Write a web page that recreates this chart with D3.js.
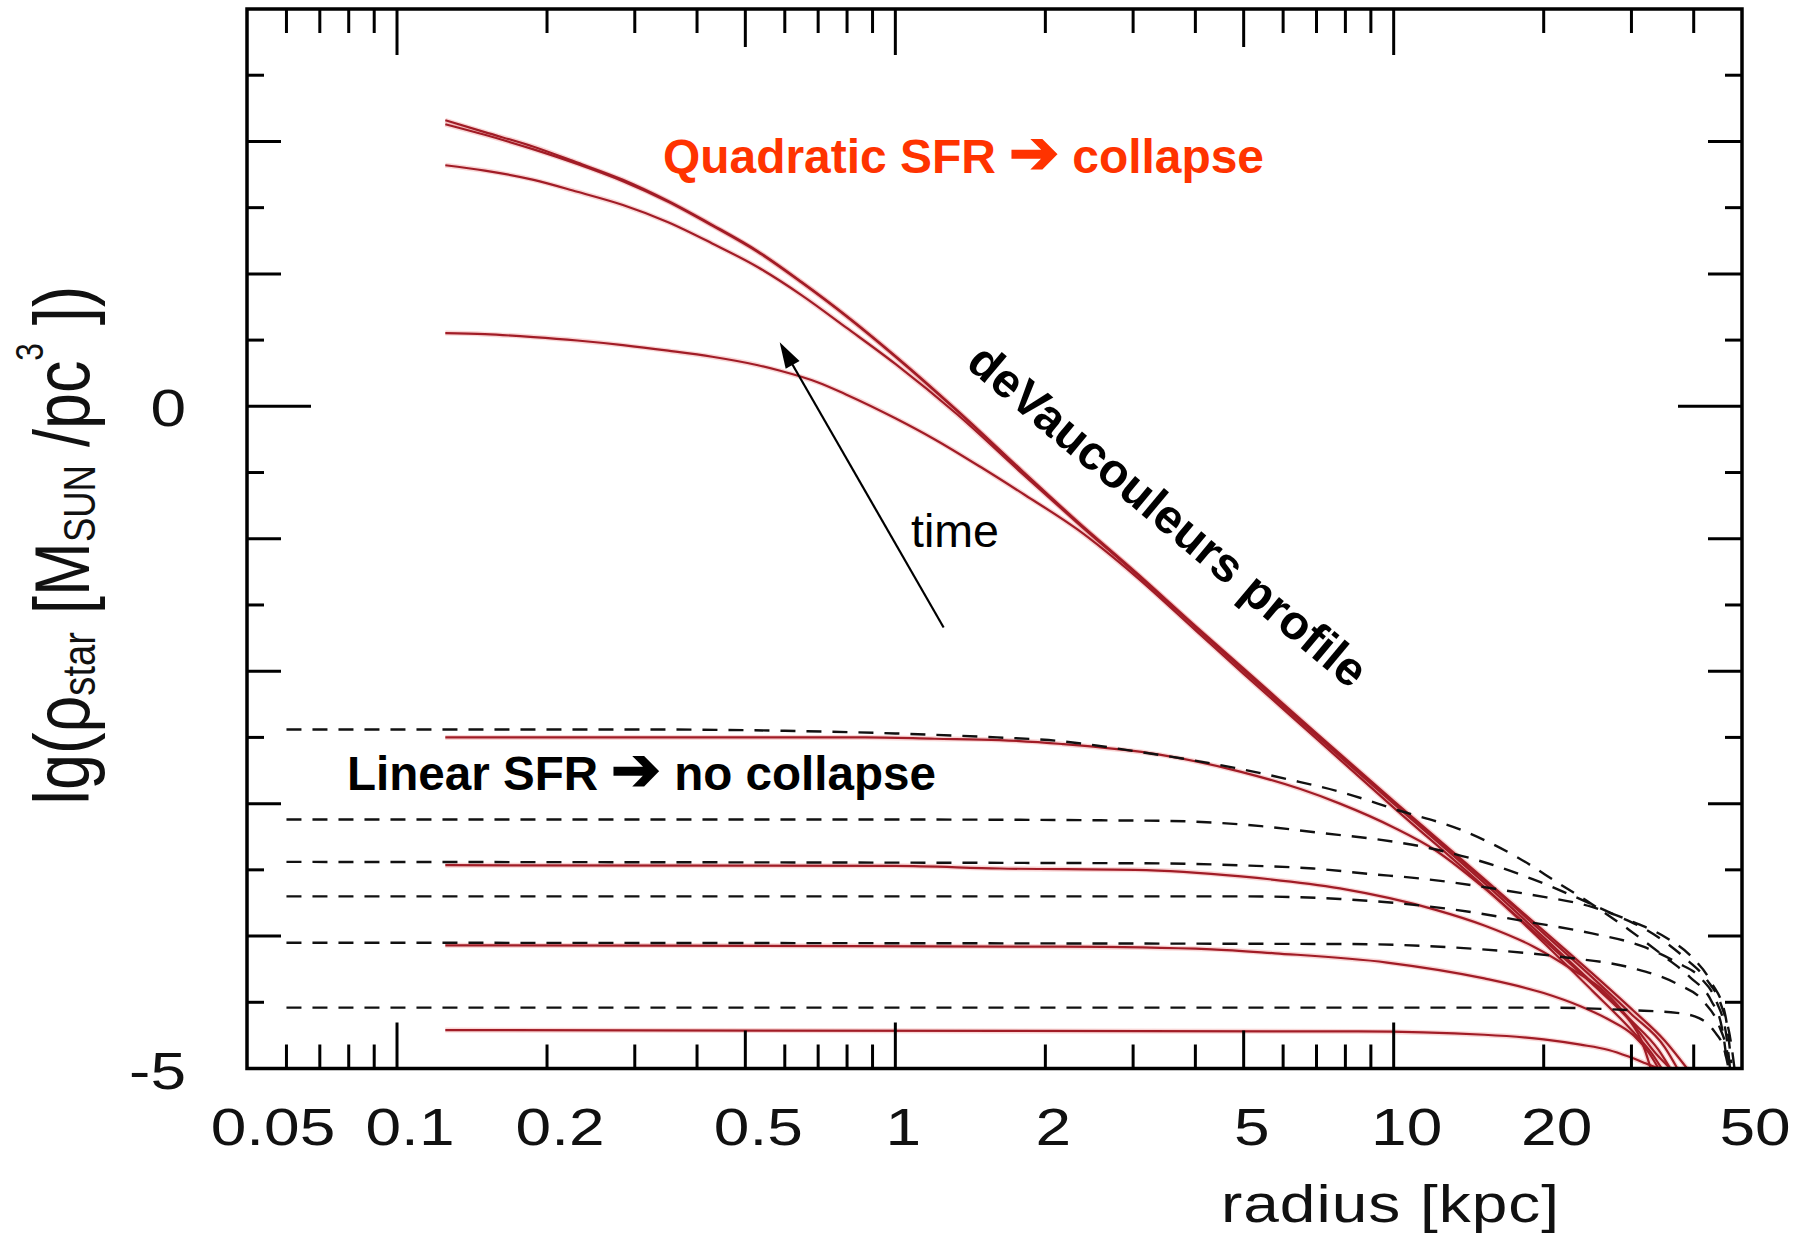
<!DOCTYPE html>
<html>
<head>
<meta charset="utf-8">
<script src="https://cdn.jsdelivr.net/npm/d3@7"></script>
<style>
  html, body { margin: 0; padding: 0; background: #fff; }
  svg { display: block; font-family: "Liberation Sans", Arial, Helvetica, sans-serif; }
</style>
</head>
<body>
<svg id="chart" width="1810" height="1235"></svg>
<script>
// tick labels
const radiusTicks = [0.05, 0.1, 0.2, 0.5, 1, 2, 5, 10, 20, 50];
const densityTicks = [0, -5];

// quadratic SFR runs (red, [radius kpc, lg rho])
const quadA = [[0.125,2.16],[0.15,2.07],[0.188,1.96],[0.23,1.84],[0.284,1.71],[0.35,1.55],[0.429,1.37],[0.53,1.17],[0.648,0.94],[0.8,0.68],[1.0,0.38],[1.33,-0.03],[1.8,-0.49],[2.32,-0.87],[3.05,-1.26],[4,-1.66],[5,-1.98],[7,-2.47],[10,-2.98],[15,-3.55],[20,-3.96],[25,-4.28],[30,-4.55],[35,-4.79],[38.8,-5.0]];
const quadB = [[0.125,2.13],[0.15,2.05],[0.188,1.94],[0.23,1.83],[0.284,1.70],[0.35,1.545],[0.429,1.365],[0.53,1.165],[0.648,0.935],[0.8,0.675],[1.0,0.375],[1.33,-0.035],[1.8,-0.495],[2.32,-0.875],[3.05,-1.265],[4,-1.665],[5,-1.99],[7,-2.48],[10,-2.99],[15,-3.56],[20,-3.98],[25,-4.31],[30,-4.59],[35,-4.84],[37.1,-5.0]];
const quadC = [[0.125,1.82],[0.15,1.78],[0.188,1.71],[0.23,1.62],[0.284,1.52],[0.35,1.39],[0.429,1.23],[0.53,1.05],[0.648,0.84],[0.8,0.59],[1.0,0.32],[1.33,-0.06],[1.8,-0.51],[2.32,-0.88],[3.05,-1.27],[4,-1.67],[5,-2.0],[7,-2.49],[10,-3.0],[15,-3.58],[20,-4.01],[25,-4.35],[30,-4.65],[34,-4.91],[35.9,-5.0]];
const quadD = [[0.125,0.553],[0.15,0.545],[0.188,0.523],[0.23,0.497],[0.284,0.462],[0.35,0.42],[0.429,0.374],[0.53,0.31],[0.585,0.27],[0.7,0.18],[0.796,0.09],[1.0,-0.09],[1.2,-0.25],[1.5,-0.47],[1.82,-0.67],[2.32,-0.93],[3.05,-1.29],[4,-1.69],[5,-2.02],[7,-2.51],[10,-3.03],[15,-3.61],[20,-4.05],[25,-4.41],[30,-4.71],[33,-4.89],[34.5,-5.0]];

// linear SFR runs (red)
const linA = [[0.125,-2.50],[0.5,-2.50],[0.87,-2.50],[1.2,-2.51],[1.62,-2.52],[2.16,-2.55],[3.39,-2.63],[4.94,-2.76],[6.5,-2.89],[7.8,-3.0],[10,-3.18],[12.1,-3.35],[15,-3.62],[20,-4.03],[25,-4.36],[30,-4.64],[34,-4.86],[35.9,-5.0]];
const linB = [[0.125,-3.465],[1.0,-3.47],[1.62,-3.49],[3.03,-3.50],[4.94,-3.55],[7.8,-3.64],[12.1,-3.80],[15.2,-3.92],[19.1,-4.08],[23,-4.26],[26.5,-4.42],[29.5,-4.62],[31.5,-4.80],[32.8,-5.0]];
const linC = [[0.125,-4.07],[2.16,-4.08],[4.32,-4.10],[5.78,-4.13],[9.7,-4.20],[15.2,-4.32],[20,-4.43],[23.7,-4.53],[27,-4.63],[30.3,-4.75],[32.5,-4.88],[34,-5.0]];
const linD = [[0.125,-4.71],[8.5,-4.72],[15.2,-4.745],[20,-4.78],[23.7,-4.82],[27,-4.86],[29.6,-4.91],[32,-4.96],[34,-5.0]];

// dashed comparison profiles (black)
const dashA = [[0.06,-2.44],[0.3,-2.44],[0.6,-2.45],[1.0,-2.47],[1.6,-2.50],[2.03,-2.52],[3.1,-2.61],[4.8,-2.73],[6.2,-2.82],[7.8,-2.91],[10.2,-3.05],[13.7,-3.20],[17.8,-3.41],[21.4,-3.60],[25,-3.76],[29.6,-3.95],[34.8,-4.15],[39.3,-4.31],[43.4,-4.49],[45.5,-4.68],[46.6,-4.96],[46.7,-5.0]];
const dashB = [[0.06,-3.12],[1,-3.12],[3.46,-3.13],[5.42,-3.17],[7.09,-3.22],[9.27,-3.27],[11.6,-3.33],[14.8,-3.43],[19,-3.57],[24.3,-3.74],[27.8,-3.84],[31.7,-3.94],[35.5,-4.06],[38.8,-4.18],[42.5,-4.33],[45.4,-4.52],[47.5,-4.80],[48.3,-5.0]];
const dashC = [[0.06,-3.44],[3,-3.45],[5.3,-3.47],[6.9,-3.49],[8.9,-3.53],[11.6,-3.57],[16.4,-3.65],[19,-3.69],[25,-3.78],[29.6,-3.88],[35.5,-4.02],[39.7,-4.16],[43.4,-4.35],[46.3,-4.60],[47.6,-4.96]];
const dashD = [[0.06,-3.70],[5,-3.70],[7.8,-3.72],[13.2,-3.80],[19.1,-3.90],[25,-3.98],[31.7,-4.08],[37,-4.20],[41.4,-4.32],[44.5,-4.50],[46.5,-4.75],[47.3,-5.0]];
const dashE = [[0.06,-4.05],[8,-4.06],[15,-4.10],[22,-4.16],[30,-4.24],[37,-4.36],[42,-4.50],[45,-4.68],[46.8,-4.90],[47.2,-5.0]];
const dashF = [[0.06,-4.54],[20,-4.54],[30,-4.56],[37,-4.58],[41,-4.62],[44,-4.72],[46,-4.85],[47,-5.0]];

const redRuns = [quadA, quadB, quadC, quadD, linA, linB, linC, linD];
const dashRuns = [dashA, dashB, dashC, dashD, dashE, dashF];

// time arrow, in data coordinates
const arrowFrom = [1.25, -1.67];
const arrowTo = [0.586, 0.483];

const svg = d3.select('#chart');
const L = 247, R = 1742, T = 9, B = 1068.5;

const x = d3.scaleLog().domain([0.05, 50]).range([L, R]);
const y = d3.scaleLinear().domain([-5, 3]).range([B, T]);

svg.append('defs').append('clipPath').attr('id', 'plot')
  .append('rect').attr('x', L).attr('y', T).attr('width', R - L).attr('height', B - T);

const line = d3.line().x(d => x(d[0])).y(d => y(d[1])).curve(d3.curveMonotoneX);
const g = svg.append('g').attr('clip-path', 'url(#plot)');

// red runs: soft halo under a dark core, like the jpeg original
g.selectAll('path.halo').data(redRuns).enter().append('path')
  .attr('class', 'halo').attr('d', line)
  .attr('fill', 'none').attr('stroke', '#ef8a8a').attr('stroke-width', 5).attr('stroke-opacity', 0.35);
g.selectAll('path.red').data(redRuns).enter().append('path')
  .attr('class', 'red').attr('d', line)
  .attr('fill', 'none').attr('stroke', '#a11c26').attr('stroke-width', 2.2);

g.selectAll('path.dash').data(dashRuns).enter().append('path')
  .attr('class', 'dash').attr('d', line)
  .attr('fill', 'none').attr('stroke', '#111').attr('stroke-width', 2.4)
  .attr('stroke-dasharray', '15 11');

// ticks on all four sides
const xMinor = [];
[0.01, 0.1, 1, 10].forEach(d => {
  for (let k = 1; k <= 9; k++) {
    const v = +(k * d).toPrecision(3);
    if (v > 0.05 && v < 50) xMinor.push({ v, len: k === 1 ? 46 : k === 5 ? 38 : 24 });
  }
});
const ax = svg.append('g').attr('stroke', '#000').attr('stroke-width', 3);
xMinor.forEach(t => {
  ax.append('line').attr('x1', x(t.v)).attr('x2', x(t.v)).attr('y1', B).attr('y2', B - t.len);
  ax.append('line').attr('x1', x(t.v)).attr('x2', x(t.v)).attr('y1', T).attr('y2', T + t.len);
});
d3.range(-4.5, 3, 0.5).forEach(v => {
  const len = v === 0 ? 64 : Number.isInteger(v) ? 34 : 17;
  ax.append('line').attr('x1', L).attr('x2', L + len).attr('y1', y(v)).attr('y2', y(v));
  ax.append('line').attr('x1', R).attr('x2', R - len).attr('y1', y(v)).attr('y2', y(v));
});

svg.append('rect').attr('x', L).attr('y', T).attr('width', R - L).attr('height', B - T)
  .attr('fill', 'none').attr('stroke', '#000').attr('stroke-width', 3.5);

// tick labels (the original is slightly squashed vertically)
const labelShift = d => d === 0.05 ? 26 : (d === 1 || d === 2 || d === 5) ? 8 : 13;
svg.append('g').selectAll('text').data(radiusTicks).enter().append('text')
  .attr('transform', d => `translate(${x(d) + labelShift(d)},1145) scale(1,0.82)`)
  .attr('text-anchor', 'middle').attr('font-size', 64).attr('fill', '#111')
  .text(d => d);
svg.append('g').selectAll('text').data(densityTicks).enter().append('text')
  .attr('transform', d => `translate(186,${y(d) + 20}) scale(1,0.82)`)
  .attr('text-anchor', 'end').attr('font-size', 64).attr('fill', '#111')
  .text(d => d);

svg.append('text')
  .attr('transform', 'translate(1390,1222) scale(1,0.82)')
  .attr('text-anchor', 'middle').attr('font-size', 64).attr('fill', '#111')
  .attr('textLength', 338).attr('lengthAdjust', 'spacing')
  .text('radius [kpc]');

const yl = svg.append('text')
  .attr('transform', 'translate(89,545) rotate(-90) scale(0.83,1)')
  .attr('text-anchor', 'middle').attr('font-size', 78).attr('fill', '#111');
yl.append('tspan').text('lg(ρ');
yl.append('tspan').attr('font-size', 46).attr('dy', 6).text('star');
yl.append('tspan').attr('dy', -6).text(' [M');
yl.append('tspan').attr('font-size', 44).attr('dy', 6).text('SUN');
yl.append('tspan').attr('dy', -6).text(' /pc');
yl.append('tspan').attr('font-size', 38).attr('dy', -46).text('3');
yl.append('tspan').attr('dy', 46).text(' ])');

// annotations
const q = svg.append('text').attr('x', 663).attr('y', 173)
  .attr('font-size', 48).attr('font-weight', 'bold').attr('fill', '#ff3300')
  .attr('textLength', 601).attr('lengthAdjust', 'spacingAndGlyphs');
q.append('tspan').text('Quadratic SFR ');
q.append('tspan').attr('font-size', 60).text('➔');
q.append('tspan').text(' collapse');

const lin = svg.append('text').attr('x', 347).attr('y', 790)
  .attr('font-size', 48).attr('font-weight', 'bold').attr('fill', '#000')
  .attr('textLength', 589).attr('lengthAdjust', 'spacingAndGlyphs');
lin.append('tspan').text('Linear SFR ');
lin.append('tspan').attr('font-size', 60).text('➔');
lin.append('tspan').text(' no collapse');

svg.append('text')
  .attr('transform', 'translate(1157.6,528) rotate(40)')
  .attr('text-anchor', 'middle')
  .attr('font-size', 48).attr('font-weight', 'bold').attr('fill', '#000')
  .attr('textLength', 504).attr('lengthAdjust', 'spacingAndGlyphs')
  .text('deVaucouleurs profile');
svg.append('text').attr('x', 911).attr('y', 547)
  .attr('font-size', 46).attr('fill', '#000')
  .attr('textLength', 88).attr('lengthAdjust', 'spacingAndGlyphs')
  .text('time');

// time arrow
const x0 = x(arrowFrom[0]), y0 = y(arrowFrom[1]), x1 = x(arrowTo[0]), y1 = y(arrowTo[1]);
const ang = Math.atan2(y1 - y0, x1 - x0);
const hl = 26, hw = 8;
svg.append('line').attr('x1', x0).attr('y1', y0)
  .attr('x2', x1 - Math.cos(ang) * 10).attr('y2', y1 - Math.sin(ang) * 10)
  .attr('stroke', '#000').attr('stroke-width', 2.2);
const bx = x1 - Math.cos(ang) * hl, by = y1 - Math.sin(ang) * hl;
svg.append('path')
  .attr('d', `M${x1},${y1}L${bx - Math.sin(ang) * hw},${by + Math.cos(ang) * hw}L${bx + Math.sin(ang) * hw},${by - Math.cos(ang) * hw}Z`)
  .attr('fill', '#000');
</script>
</body>
</html>
